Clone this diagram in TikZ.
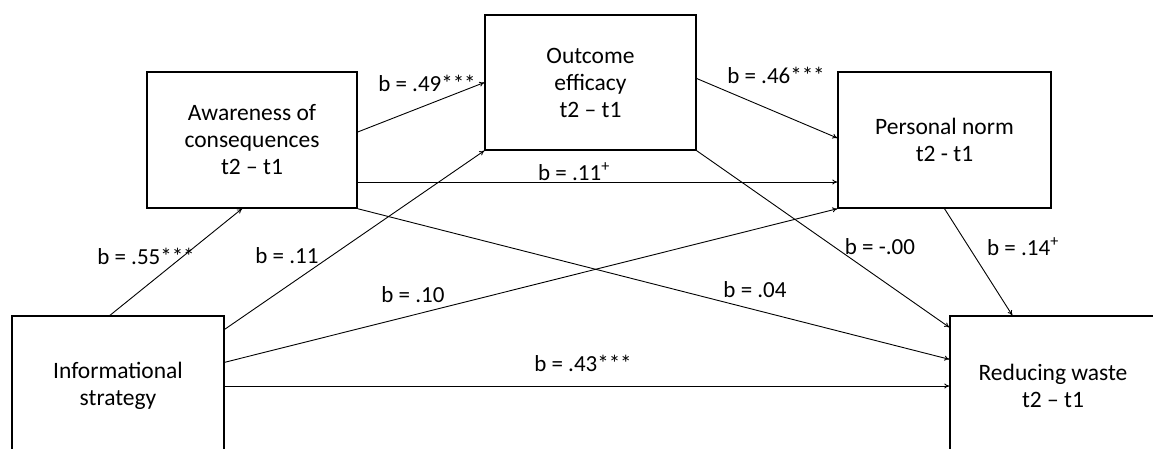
\documentclass[tikz,border=0pt]{standalone}
\usepackage{fontspec}
\setmainfont{Carlito}
\usetikzlibrary{arrows.meta}
\begin{document}
\begin{tikzpicture}[x=1pt,y=-1pt,
        box/.style={draw,line width=1.4pt,rectangle,align=center,inner sep=0pt,font=\fontsize{23.5}{27}\selectfont},
        lbl/.style={inner sep=1pt,font=\fontsize{23}{27}\selectfont},
        >={To[length=5pt,width=5pt]}]
        \useasboundingbox (0,0) rectangle (1153,448);
        \clip (0,0) rectangle (1153,448);
        \fill[white] (0,0) rectangle (1153,448);
        \node[box,minimum width=212pt,minimum height=140pt] (info) at (118,386) {Informational\\strategy};
        \node[box,minimum width=210pt,minimum height=136pt] (aware) at (252,140) {Awareness of\\consequences\\t2 -- t1};
        \node[box,minimum width=211pt,minimum height=135pt] (outc) at (590.5,82.5) {Outcome\\efficacy\\t2 -- t1};
        \node[box,minimum width=213pt,minimum height=136pt] (pers) at (944.5,140) {Personal norm\\t2 - t1};
        \node[box,minimum width=206pt,minimum height=140pt] (waste) at (1053,386) {Reducing waste\\t2 -- t1};
        \draw[->,line width=0.9pt] ([xshift=-8pt]info.north) -- ([xshift=-10pt]aware.south);
        \draw[->,line width=0.9pt] ([yshift=-14pt]info.north east) -- (outc.south west);
        \draw[->,line width=0.9pt] ([yshift=-47pt]info.north east) -- (pers.south west);
        \draw[->,line width=0.9pt] (info.east) -- (waste.west);
        \draw[->,line width=0.9pt] ([yshift=8pt]aware.east) -- (outc.west);
        \draw[->,line width=0.9pt] ([yshift=-42pt]aware.east) -- ([yshift=-42pt]pers.west);
        \draw[->,line width=0.9pt] (aware.south east) -- ([yshift=-44pt]waste.north west);
        \draw[->,line width=0.9pt] ([yshift=4pt]outc.east) -- ([yshift=2pt]pers.west);
        \draw[->,line width=0.9pt] (outc.south east) -- ([yshift=-12pt]waste.north west);
        \draw[->,line width=0.9pt] (pers.south) -- ([xshift=63pt]waste.north west);
        \node[lbl] (l55) at (146,256) {b = .55***};
        \node[lbl] (l11a) at (287,256) {b = .11};
        \node[lbl] (l10) at (413,295) {b = .10};
        \node[lbl] (l43) at (583,363) {b = .43***};
        \node[lbl] (l04) at (755,290) {b = .04};
        \node[lbl] (l49) at (427,83) {b = .49***};
        \node[lbl] (l11b) at (574,172) {b = .11\textsuperscript{+}};
        \node[lbl] (l46) at (776,75) {b = .46***};
        \node[lbl] (l00) at (880,247) {b = -.00};
        \node[lbl] (l14) at (1023,247) {b = .14\textsuperscript{+}};
    \end{tikzpicture}
\end{document}
